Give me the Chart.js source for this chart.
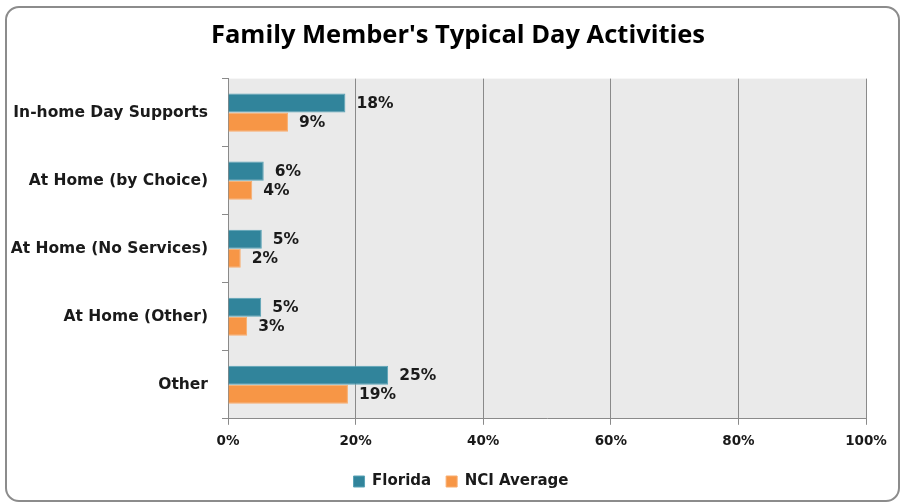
<!DOCTYPE html>
<html>
<head>
<meta charset="utf-8">
<script src="https://cdn.jsdelivr.net/npm/chart.js@4"></script>
<style>
  body { margin: 0; background: #fff; }
  #marco { position: absolute; left: 5px; top: 6px; width: 891px; height: 492px;
           border: 2px solid #8c8c8c; border-radius: 14px; }
  #lienzo { position: absolute; left: 0; top: 0; }
</style>
</head>
<body>
<div id="marco"></div>
<canvas id="lienzo" width="903" height="502"></canvas>
<script>
// datos
var categorias = ["In-home Day Supports", "At Home (by Choice)", "At Home (No Services)", "At Home (Other)", "Other"]
var florida = [18.4, 5.6, 5.3, 5.2, 25.1]
var nci_promedio = [9.4, 3.8, 2.0, 3.0, 18.8]
var marcas_x = [0, 20, 40, 60, 80, 100]

var fuente = "'DejaVu Sans', Verdana, sans-serif"

// etiquetas de valor a la derecha de cada barra
var etiquetas_barras = {
    id: "etiquetas_barras",
    afterDatasetsDraw: function (chart) {
        var ctx = chart.ctx
        ctx.save()
        ctx.font = "bold 15.5px " + fuente
        ctx.fillStyle = "#1a1a1a"
        ctx.textBaseline = "middle"
        ctx.textAlign = "left"
        chart.data.datasets.forEach(function (ds, i) {
            var meta = chart.getDatasetMeta(i)
            meta.data.forEach(function (barra, j) {
                ctx.fillText(Math.round(ds.data[j]) + "%", barra.x + 11, barra.y + 1)
            })
        })
        ctx.restore()
    }
}

// fondo gris del area de trazado
var fondo_area = {
    id: "fondo_area",
    beforeDraw: function (chart) {
        var a = chart.chartArea
        chart.ctx.save()
        chart.ctx.fillStyle = "#eaeaea"
        chart.ctx.fillRect(a.left, a.top, a.right - a.left, a.bottom - a.top)
        chart.ctx.restore()
    }
}

// titulo y leyenda un poco a la derecha, como en el original
var mover_bloques = {
    id: "mover_bloques",
    afterLayout: function (chart) {
        if (chart.titleBlock) chart.titleBlock.left += 40
        if (chart.legend) chart.legend.left += 46
    }
}

var grafica = new Chart(document.getElementById("lienzo"), {
    type: "bar",
    data: {
        labels: categorias,
        datasets: [{
            label: "Florida",
            data: florida,
            backgroundColor: "#31849b",
            borderColor: "#5aa3b6",
            borderWidth: 1
        }, {
            label: "NCI Average",
            data: nci_promedio,
            backgroundColor: "#f79646",
            borderColor: "#f9ad6e",
            borderWidth: 1
        }]
    },
    options: {
        indexAxis: "y",
        responsive: false,
        animation: false,
        categoryPercentage: 0.56,
        barPercentage: 1,
        layout: { padding: { left: 10, right: 37, top: 8, bottom: 3 } },
        plugins: {
            title: {
                display: true,
                text: "Family Member's Typical Day Activities",
                color: "#000",
                font: { family: "'Open Sans', sans-serif", size: 25.5, weight: "bold" },
                padding: { top: 12, bottom: 28 }
            },
            legend: {
                position: "bottom",
                labels: {
                    color: "#1a1a1a",
                    font: { family: fuente, size: 15, weight: "bold" },
                    boxWidth: 11, boxHeight: 11,
                    padding: 15
                }
            },
            tooltip: { enabled: false }
        },
        scales: {
            x: {
                min: 0, max: 100,
                afterBuildTicks: function (eje) {
                    eje.ticks = marcas_x.map(function (v) { return { value: v } })
                },
                ticks: {
                    callback: function (v) { return v + "%" },
                    color: "#1a1a1a",
                    font: { family: fuente, size: 13.5, weight: "bold" },
                    padding: 9, maxRotation: 0
                },
                grid: { color: "#8a8a8a", lineWidth: 1, drawTicks: true, tickLength: 6, tickColor: "#8a8a8a" },
                border: { color: "#8a8a8a" }
            },
            y: {
                afterFit: function (eje) { eje.width = 218 },
                ticks: {
                    color: "#1a1a1a",
                    font: { family: fuente, size: 15.5, weight: "bold" },
                    padding: 14
                },
                grid: { display: true, offset: true, drawOnChartArea: false, tickLength: 6, tickColor: "#8a8a8a" },
                border: { color: "#8a8a8a" }
            }
        }
    },
    plugins: [fondo_area, etiquetas_barras, mover_bloques]
})
</script>
</body>
</html>
